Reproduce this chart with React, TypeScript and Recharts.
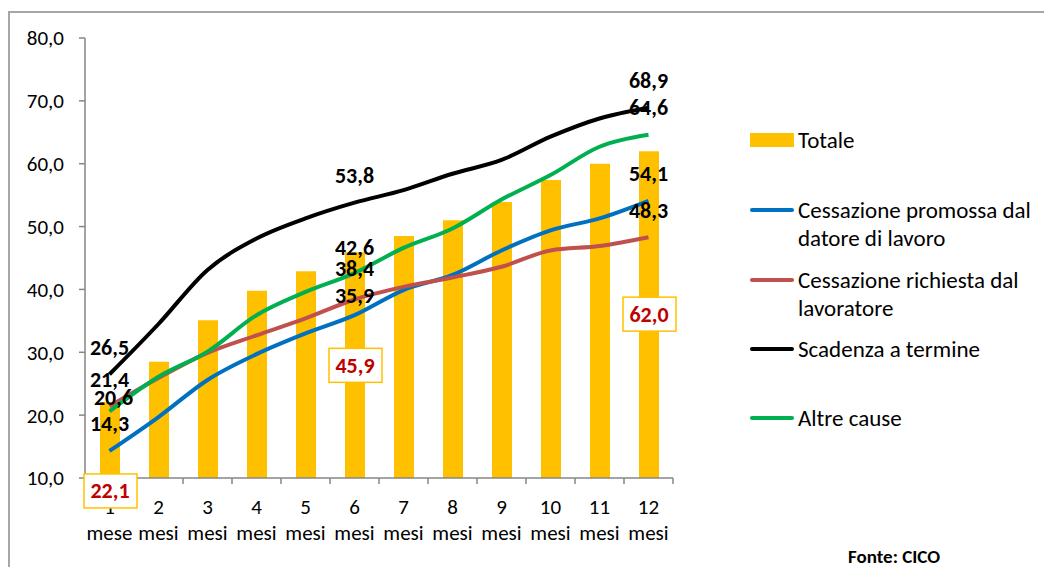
import { ComposedChart, Bar, Line, XAxis, YAxis, LabelList } from 'recharts';

// ── data ───────────────────────────────────────────────────────────
const categories = [
  '1 mese', '2 mesi', '3 mesi', '4 mesi', '5 mesi', '6 mesi',
  '7 mesi', '8 mesi', '9 mesi', '10 mesi', '11 mesi', '12 mesi',
];
const totale = [22.1, 28.5, 35.1, 39.8, 42.9, 45.9, 48.5, 51.0, 53.9, 57.4, 60.0, 62.0];
const promossa = [14.3, 19.7, 25.6, 29.7, 33.0, 35.9, 39.9, 42.3, 46.2, 49.4, 51.3, 54.1];
const richiesta = [21.4, 25.9, 29.9, 32.7, 35.4, 38.4, 40.4, 41.9, 43.6, 46.2, 46.9, 48.3];
const scadenza = [26.5, 34.5, 43.1, 48.1, 51.3, 53.8, 55.8, 58.4, 60.6, 64.3, 67.2, 68.9];
const altre = [20.6, 26.1, 30.1, 35.9, 39.6, 42.6, 46.6, 49.7, 54.3, 58.2, 62.7, 64.6];
const yTicks = [10, 20, 30, 40, 50, 60, 70, 80];

const data = categories.map((name, i) => ({
  name,
  totale: totale[i],
  promossa: promossa[i],
  richiesta: richiesta[i],
  scadenza: scadenza[i],
  altre: altre[i],
}));

// ── layout ─────────────────────────────────────────────────────────
const W = 1044;
const H = 567;
const MARGIN = { top: 38, right: 371, bottom: 0, left: 0 };
const Y_AXIS_W = 85;
const X_AXIS_H = 89;
const BAND = (W - MARGIN.left - MARGIN.right - Y_AXIS_W) / categories.length;
const FONT = 'Carlito, Lato, sans-serif';
const AXIS_GREY = '#868686';

const COLORS = {
  totale: '#FFC000',
  promossa: '#0070C0',
  richiesta: '#C0504D',
  scadenza: '#000000',
  altre: '#00B050',
};

const fmt = (v: number) => v.toFixed(1).replace('.', ',');

// label offsets (dx, dy) from the point, only for labelled months
const lineLabelPos: Record<string, Record<number, [number, number]>> = {
  scadenza: { 0: [0, -27], 5: [0, -27], 11: [0, -27] },
  altre: { 0: [4, -14], 5: [0, -26], 11: [0, -27] },
  richiesta: { 0: [0, -27], 5: [0, -31], 11: [0, -27] },
  promossa: { 0: [0, -27], 5: [0, -20], 11: [0, -27] },
};
const barLabelDy: Record<number, number> = { 0: 89, 5: 113, 11: 163 };

function lineLabel(key: string) {
  return (props: any) => {
    const pos = lineLabelPos[key][props.index];
    if (!pos) return null;
    return (
      <text
        x={props.x + pos[0]}
        y={props.y + pos[1]}
        textAnchor="middle"
        dominantBaseline="central"
        fontFamily={FONT}
        fontWeight={700}
        fontSize={22}
        fill="#000"
      >
        {fmt(props.value)}
      </text>
    );
  };
}

function BarLabel(props: any) {
  const dy = barLabelDy[props.index];
  if (dy === undefined) return null;
  const cx = props.x + props.width / 2;
  const cy = props.y + dy;
  return (
    <g>
      <rect x={cx - 26} y={cy - 17} width={53} height={34} fill="#fff" stroke="#FFC000" strokeWidth={1.5} />
      <text
        x={cx}
        y={cy}
        textAnchor="middle"
        dominantBaseline="central"
        fontFamily={FONT}
        fontWeight={700}
        fontSize={22}
        fill="#C00000"
      >
        {fmt(props.value)}
      </text>
    </g>
  );
}

function MonthTick({ x, y, payload, index }: any) {
  const [num, unit] = String(payload.value).split(' ');
  const left = x - BAND / 2;
  return (
    <g>
      <line x1={left} y1={y} x2={left} y2={y + 6} stroke={AXIS_GREY} strokeWidth={1.5} />
      {index === categories.length - 1 && (
        <line x1={x + BAND / 2} y1={y} x2={x + BAND / 2} y2={y + 6} stroke={AXIS_GREY} strokeWidth={1.5} />
      )}
      <text x={x} y={y + 29} textAnchor="middle" dominantBaseline="central" fontFamily={FONT} fontSize={21} fill="#000">
        {num}
      </text>
      <text x={x} y={y + 55} textAnchor="middle" dominantBaseline="central" fontFamily={FONT} fontSize={21} fill="#000">
        {unit}
      </text>
    </g>
  );
}

const legendItems = [
  { key: 'totale', lines: ['Totale'], cy: 140, bar: true },
  { key: 'promossa', lines: ['Cessazione promossa dal', 'datore di lavoro'], cy: 210 },
  { key: 'richiesta', lines: ['Cessazione richiesta dal', 'lavoratore'], cy: 280 },
  { key: 'scadenza', lines: ['Scadenza a termine'], cy: 349 },
  { key: 'altre', lines: ['Altre cause'], cy: 418 },
];

export default function App() {
  return (
    <div style={{ position: 'absolute', left: 0, top: 0, width: W, height: H, background: '#fff', fontFamily: FONT }}>
      {/* outer frame (top and left edges visible) */}
      <div
        style={{
          position: 'absolute',
          left: 8,
          top: 11,
          width: W - 8,
          height: H - 11,
          borderTop: '2px solid #a6a6a6',
          borderLeft: '2px solid #a6a6a6',
          boxSizing: 'border-box',
        }}
      />

      <div style={{ position: 'absolute', left: 0, top: 0 }}>
        <ComposedChart width={W} height={H} data={data} margin={MARGIN} barSize={20}>
          <XAxis
            dataKey="name"
            height={X_AXIS_H}
            axisLine={{ stroke: AXIS_GREY, strokeWidth: 1.5 }}
            tickLine={false}
            tickSize={0}
            tickMargin={0}
            interval={0}
            tick={<MonthTick />}
          />
          <YAxis
            width={Y_AXIS_W}
            domain={[10, 80]}
            ticks={yTicks}
            tickFormatter={fmt}
            axisLine={{ stroke: AXIS_GREY, strokeWidth: 1.5 }}
            tickLine={{ stroke: AXIS_GREY, strokeWidth: 1.5 }}
            tickSize={6}
            tickMargin={15}
            tick={{ fill: '#000', fontSize: 21, fontFamily: FONT }}
          />

          <Bar dataKey="totale" fill={COLORS.totale} isAnimationActive={false}>
            <LabelList dataKey="totale" content={BarLabel} />
          </Bar>

          {(['promossa', 'richiesta', 'scadenza', 'altre'] as const).map((k) => (
            <Line
              key={k}
              type="monotone"
              dataKey={k}
              stroke={COLORS[k]}
              strokeWidth={4}
              dot={false}
              activeDot={false}
              isAnimationActive={false}
            >
              <LabelList dataKey={k} content={lineLabel(k)} />
            </Line>
          ))}
        </ComposedChart>
      </div>

      {/* legend */}
      {legendItems.map((it) => (
        <div key={it.key}>
          {it.bar ? (
            <div
              style={{
                position: 'absolute',
                left: 750,
                top: it.cy - 7,
                width: 44,
                height: 14,
                background: COLORS[it.key as keyof typeof COLORS],
              }}
            />
          ) : (
            <div
              style={{
                position: 'absolute',
                left: 750,
                top: it.cy - 2,
                width: 44,
                height: 4,
                borderRadius: 2,
                background: COLORS[it.key as keyof typeof COLORS],
              }}
            />
          )}
          <div
            style={{
              position: 'absolute',
              left: 798,
              top: it.cy - 14,
              fontSize: 23,
              lineHeight: '28px',
              color: '#000',
              whiteSpace: 'nowrap',
            }}
          >
            {it.lines.map((l) => (
              <div key={l}>{l}</div>
            ))}
          </div>
        </div>
      ))}

      <div
        style={{
          position: 'absolute',
          left: 848,
          top: 548,
          fontSize: 19,
          fontWeight: 700,
          lineHeight: '18px',
          color: '#000',
        }}
      >
        Fonte: CICO
      </div>
    </div>
  );
}
